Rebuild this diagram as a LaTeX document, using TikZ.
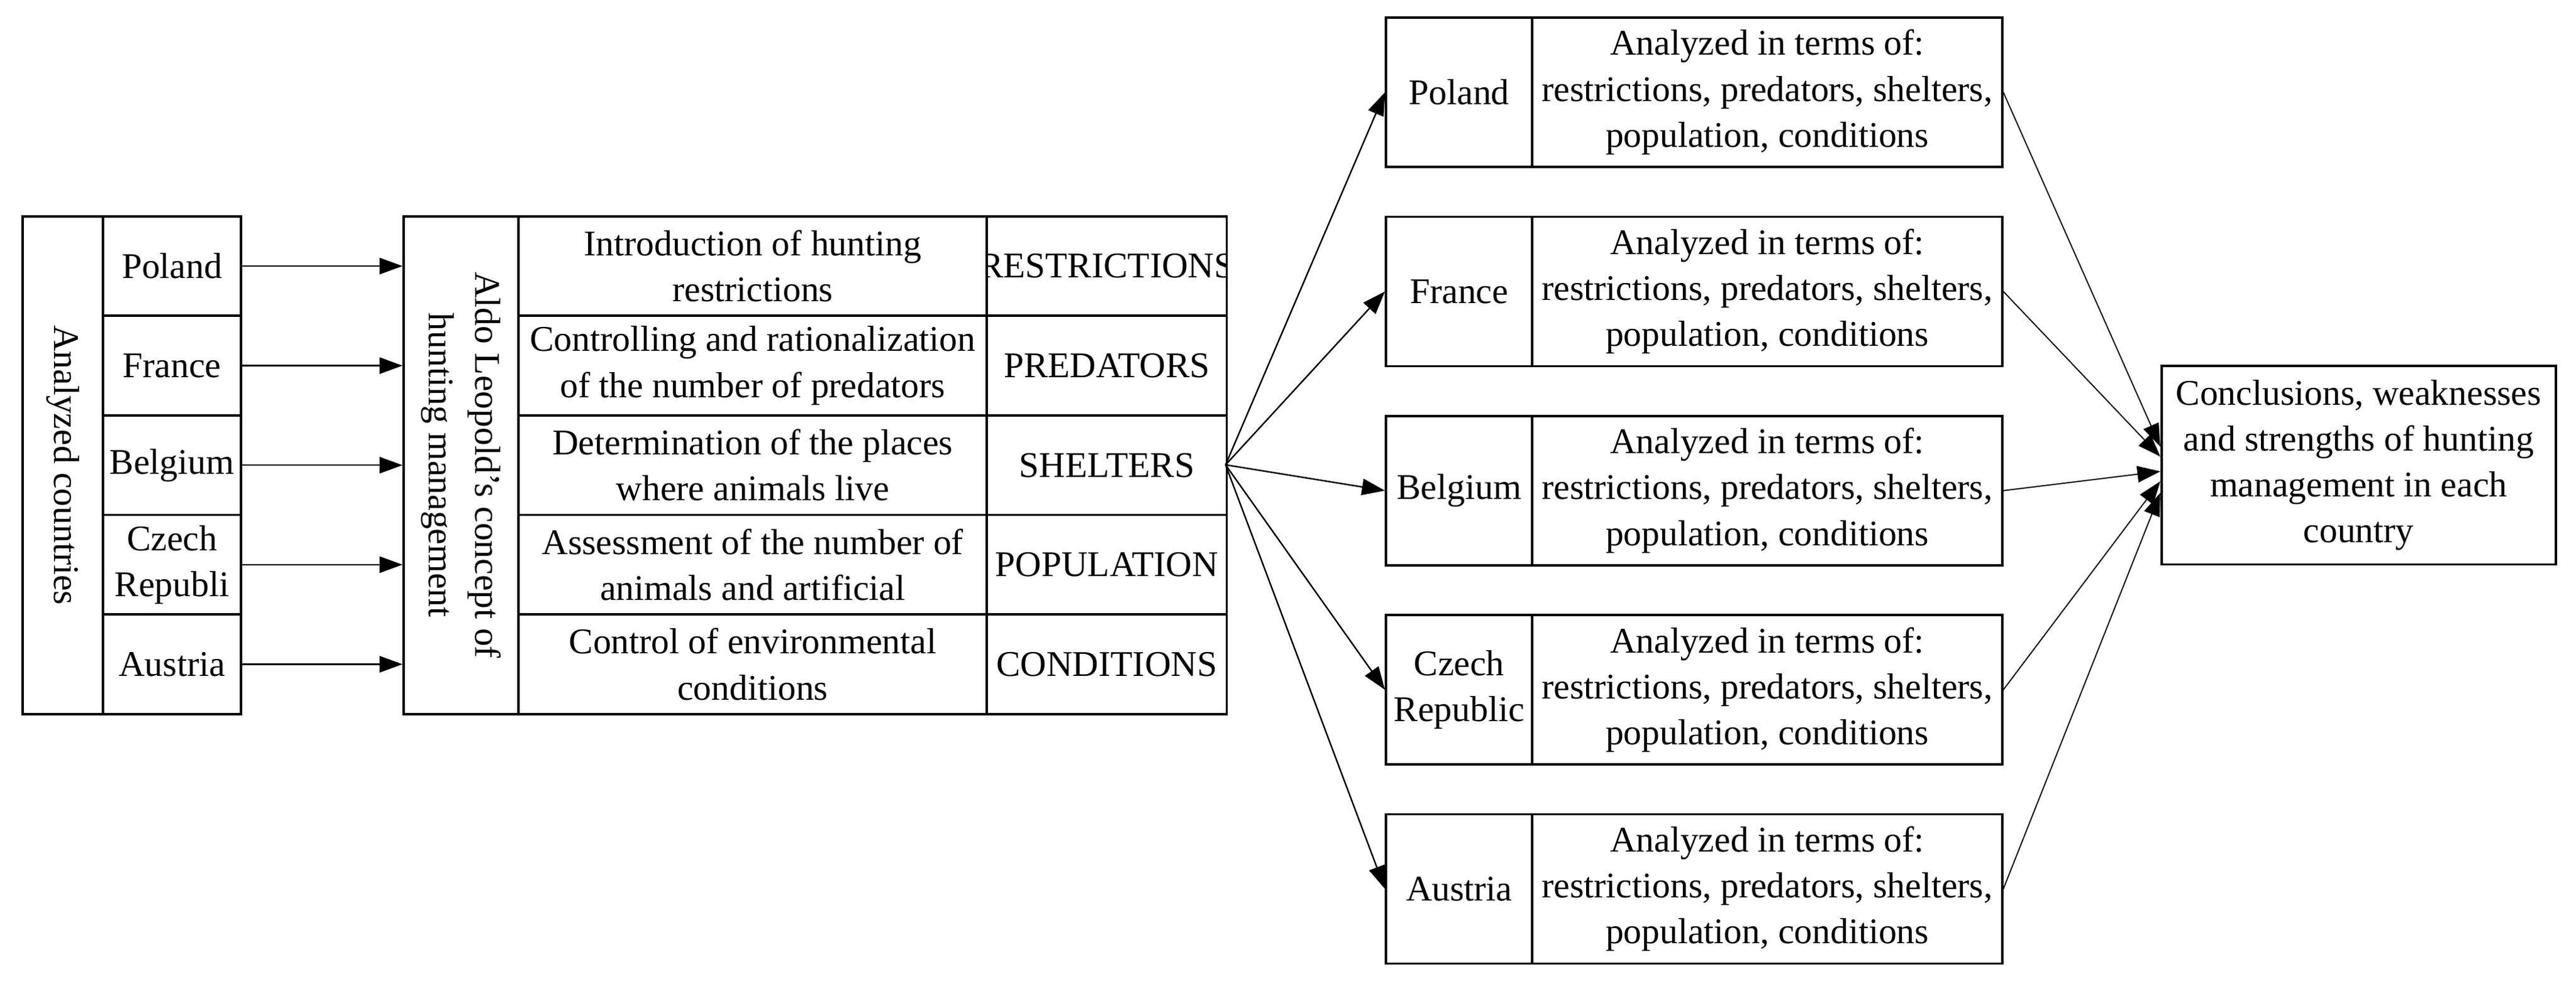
\documentclass[tikz,border=0pt]{standalone}
\usepackage{fontspec}
\setmainfont{Liberation Serif}
\usetikzlibrary{arrows.meta}
\begin{document}
\begin{tikzpicture}[x=0.5pt,y=-0.5pt,
  txt/.style={font=\fontsize{11}{14}\selectfont},
  cell/.style={draw,line width=0.7pt,inner sep=0pt,align=center,txt},
  arr/.style={line width=0.45pt,-{Triangle[length=7pt,width=5pt]}},
  thin/.style={line width=0.35pt,-{Triangle[length=7pt,width=5pt]}}]
\useasboundingbox (0,0) rectangle (1568,599);

%Left block: analyzed countries
\node[cell,minimum width=24.5pt,minimum height=151.5pt,anchor=north west] (anal) at (13,131) {};
\node[rotate=-90,txt] at (anal.center) {Analyzed countries};
\foreach \n/\t [count=\i] in {pl/Poland,fr/France,be/Belgium,cz/{Czech\\Republi},at/Austria}
  \node[cell,minimum width=42pt,minimum height=30.3pt,anchor=north west] (c\n) at (62,{131+(\i-1)*60.6}) {\t};

%Middle block: Leopold's concept
\node[cell,minimum width=35pt,minimum height=151.5pt,anchor=north west] (aldo) at (245,131) {};
\node[rotate=-90,align=center,txt] at (aldo.center) {Aldo Leopold's concept of\\hunting management};
\foreach \t [count=\i] in {{Introduction of hunting\\restrictions},{Controlling and rationalization\\of the number of predators},{Determination of the places\\where animals live},{Assessment of the number of\\animals and artificial},{Control of environmental\\conditions}}
  \node[cell,minimum width=142.5pt,minimum height=30.3pt,anchor=north west] (m\i) at (315,{131+(\i-1)*60.6}) {\t};
\foreach \i in {1,...,5}
  \node[cell,minimum width=73pt,minimum height=30.3pt,anchor=north west] (k\i) at (600,{131+(\i-1)*60.6}) {};
\begin{scope}
\clip (600,131) rectangle (746,434);
\foreach \t [count=\i] in {RESTRICTIONS,PREDATORS,SHELTERS,POPULATION,CONDITIONS}
  \node[txt] at (k\i.center) {\t};
\end{scope}

%Arrows countries -> concept
\foreach \n in {pl,fr,be,cz,at}
  \draw[arr] (c\n.east) -- (c\n.east -| aldo.west);

%Right: per-country analysis
\coordinate (fan) at (746,283);
\foreach \n/\t [count=\i] in {pl/Poland,fr/France,be/Belgium,cz/{Czech\\Republic},at/Austria}{
  \node[cell,minimum width=44.5pt,minimum height=45.5pt,anchor=north west] (r\n) at (843,{10+(\i-1)*121.25}) {\t};
  \node[cell,minimum width=143pt,minimum height=45.5pt,anchor=north west] (t\n) at (932,{10+(\i-1)*121.25}) {Analyzed in terms of:\\restrictions, predators, shelters,\\population, conditions};
  \draw[arr] (fan) -- (r\n.west);
}

%Conclusions
\node[cell,minimum width=120pt,minimum height=60.5pt,anchor=north west] (conc) at (1315,222) {Conclusions, weaknesses\\and strengths of hunting\\management in each\\country};
\foreach \n/\y in {pl/272,fr/278,be/287,cz/293,at/300}{
  \coordinate (e\n) at (1315,\y);
  \draw[thin] (t\n.east) -- (e\n);
}
\end{tikzpicture}
\end{document}
